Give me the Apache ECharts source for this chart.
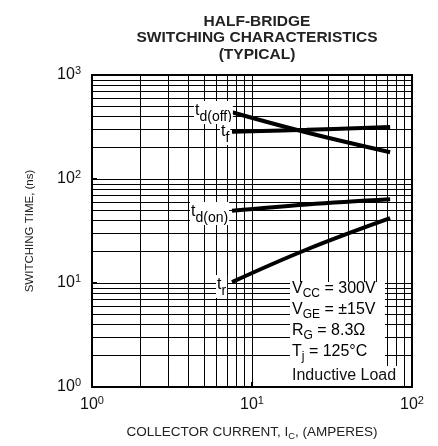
<!DOCTYPE html>
<html>
<head>
<meta charset="utf-8">
<script src="https://cdn.jsdelivr.net/npm/echarts@6/dist/echarts.min.js"></script>
<style>
  html, body { margin: 0; padding: 0; background: #fff; }
  #chart { width: 438px; height: 446px; }
</style>
</head>
<body>
<div id="chart"></div>
<script>
// collector current (A) and switching times (ns)
var current = [7.5, 22, 73];
var tdOff = [438, 280, 181];
var tf = [284, 297, 316];
var tdOn = [49.5, 57, 64];
var tr = [10.2, 21, 42];

// log grid lines
var xGrid = [2, 3, 4, 5, 6, 7, 8, 9, 10, 20, 30, 40, 50, 60, 70, 80, 90];
var yGrid = [2, 3, 4, 5, 6, 7, 8, 9, 10, 20, 30, 40, 50, 60, 70, 80, 90, 100, 200, 300, 400, 500, 600, 700, 800, 900];

var FONT = 'Liberation Sans, Arial, sans-serif';

var chartDom = document.getElementById('chart');
var myChart = echarts.init(chartDom);

function pair(xs, ys) {
  return xs.map(function (x, i) { return [x, ys[i]]; });
}

function powLabel(v) {
  var e = Math.round(Math.log10(v));
  return '{b|10}{s|' + e + '}';
}

var powRich = {
  b: { fontSize: 16, fontFamily: FONT, color: '#111' },
  s: { fontSize: 11, fontFamily: FONT, color: '#111', padding: [0, 0, 9, 0] }
};

var curveStyle = { color: '#000', width: 4, cap: 'butt' };

function curve(name, ys) {
  return {
    name: name,
    type: 'line',
    data: pair(current, ys),
    smooth: 0.4,
    symbol: 'none',
    lineStyle: curveStyle,
    z: 5,
    silent: true
  };
}

var gridSeries = {
  name: 'grid',
  type: 'line',
  data: [],
  symbol: 'none',
  silent: true,
  z: 1,
  markLine: {
    silent: true,
    symbol: 'none',
    label: { show: false },
    animation: false,
    lineStyle: { color: '#000', width: 1, type: 'solid', opacity: 1 },
    data: xGrid.map(function (v) { return { xAxis: v }; })
      .concat(yGrid.map(function (v) { return { yAxis: v }; }))
  }
};

var legendRich = {
  m: { fontSize: 16, fontFamily: FONT, color: '#111' },
  sub: { fontSize: 12, fontFamily: FONT, color: '#111', padding: [9, 0, 0, 0] }
};

var curveRich = {
  m: { fontSize: 16, fontFamily: FONT, color: '#111', padding: [0, 0, 3, 0] },
  sub: { fontSize: 14, fontFamily: FONT, color: '#111', padding: [9, 0, 0, 0] }
};

function condText(top, text) {
  return { type: 'text', z: 51, left: 292, top: top, style: { text: text, rich: legendRich } };
}

function curveLabel(left, top, text) {
  return {
    type: 'text', z: 51, left: left, top: top,
    style: { text: text, rich: curveRich, backgroundColor: '#fff', padding: [0, 1, 0, 1] }
  };
}

var option = {
  animation: false,
  backgroundColor: '#fff',
  title: {
    text: 'HALF-BRIDGE\nSWITCHING CHARACTERISTICS\n(TYPICAL)',
    left: 252,
    top: 8,
    textAlign: 'center',
    textStyle: { fontFamily: FONT, fontSize: 15.5, fontWeight: 'bold', color: '#222', lineHeight: 16.5 }
  },
  grid: {
    left: 92, right: 26, top: 75, bottom: 51,
    show: true, borderColor: '#000', borderWidth: 2, backgroundColor: 'transparent'
  },
  xAxis: {
    type: 'log',
    logBase: 10,
    min: 1,
    max: 100,
    name: 'COLLECTOR CURRENT, I{sub|C}, (AMPERES)',
    nameLocation: 'middle',
    nameGap: 36,
    nameTextStyle: {
      fontFamily: FONT, fontSize: 13.5, color: '#222',
      rich: { sub: { fontSize: 9.5, fontFamily: FONT, color: '#222', padding: [8, 0, 0, 0] } }
    },
    axisLine: { show: true, lineStyle: { color: '#000', width: 2 } },
    axisTick: { show: true, inside: true, length: 5, lineStyle: { color: '#000', width: 2 } },
    axisLabel: { formatter: powLabel, rich: powRich, margin: 8 },
    splitLine: { show: false },
    minorTick: { show: false },
    minorSplitLine: { show: false }
  },
  yAxis: {
    type: 'log',
    logBase: 10,
    min: 1,
    max: 1000,
    name: 'SWITCHING TIME, (ns)',
    nameLocation: 'middle',
    nameGap: 56,
    nameRotate: 90,
    nameTextStyle: { fontFamily: FONT, fontSize: 11.5, color: '#222' },
    axisLine: { show: true, lineStyle: { color: '#000', width: 2 } },
    axisTick: { show: true, inside: true, length: 5, lineStyle: { color: '#000', width: 2 } },
    axisLabel: { formatter: powLabel, rich: powRich, margin: 11 },
    splitLine: { show: false },
    minorTick: { show: false },
    minorSplitLine: { show: false }
  },
  series: [
    gridSeries,
    curve('td(off)', tdOff),
    curve('tf', tf),
    curve('td(on)', tdOn),
    curve('tr', tr)
  ],
  graphic: [
    // condition box
    { type: 'rect', z: 50, shape: { x: 290, y: 282, width: 95, height: 104 }, style: { fill: '#fff' } },
    { type: 'rect', z: 50, shape: { x: 290, y: 366, width: 109, height: 20 }, style: { fill: '#fff' } },
    condText(281, '{m|V}{sub|CC}{m| = 300V}'),
    condText(302, '{m|V}{sub|GE}{m| = \u00b115V}'),
    condText(323, '{m|R}{sub|G}{m| = 8.3\u03a9}'),
    condText(344, '{m|T}{sub|j}{m| = 125\u00b0C}'),
    { type: 'text', z: 51, left: 292, top: 368, style: { text: 'Inductive Load', font: '16px ' + FONT, fill: '#111' } },
    // curve labels
    curveLabel(194, 101, '{m|t}{sub|d(off)}'),
    curveLabel(220, 122, '{m|t}{sub|f}'),
    curveLabel(190, 202, '{m|t}{sub|d(on)}'),
    curveLabel(216, 275, '{m|t}{sub|r}')
  ]
};

option && myChart.setOption(option);
</script>
</body>
</html>
